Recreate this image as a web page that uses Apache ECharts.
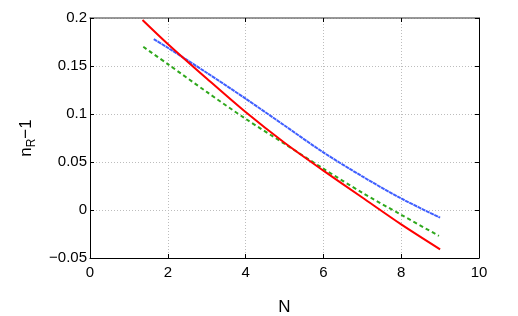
<!DOCTYPE html>
<html>
<head>
<meta charset="utf-8">
<script src="https://cdn.jsdelivr.net/npm/echarts@6/dist/echarts.min.js"></script>
<style>
html,body{margin:0;padding:0;background:#fff;}
#chart{width:518px;height:316px;}
</style>
</head>
<body>
<div id="chart"></div>
<script>
// data
var redX = [1.35, 2, 3, 4, 5, 6, 7, 8, 9];
var redY = [0.198, 0.173, 0.137, 0.102, 0.070, 0.041, 0.013, -0.015, -0.041];
var greenX = [1.37, 2, 3, 4, 5, 6, 7, 8, 8.97];
var greenY = [0.170, 0.152, 0.123, 0.095, 0.069, 0.043, 0.018, -0.005, -0.027];
var blueX = [1.64, 2, 3, 4, 5, 6, 7, 8, 9];
var blueY = [0.178, 0.169, 0.143, 0.116, 0.088, 0.060, 0.035, 0.012, -0.008];

var font = "'Liberation Sans', Arial, sans-serif";

function pairs(xs, ys) {
    return xs.map(function (x, i) { return [x, ys[i]]; });
}
function yfmt(v) {
    var s = String(+v.toFixed(2));
    return s.replace('-', '\u2212');
}

var chart = echarts.init(document.getElementById('chart'));
chart.setOption({
    animation: false,
    grid: { left: 90, right: 39, top: 18, bottom: 58, outerBoundsMode: 'none' },
    xAxis: [{
        type: 'value',
        min: 0, max: 10, interval: 2,
        name: 'N',
        nameLocation: 'middle',
        nameGap: 41,
        nameTextStyle: { fontFamily: font, fontSize: 17, color: '#000' },
        axisLine: { onZero: false, lineStyle: { color: '#000', width: 1 } },
        axisTick: { inside: true, length: 4, lineStyle: { color: '#000' } },
        axisLabel: { fontFamily: font, fontSize: 15, color: '#000', margin: 7 },
        splitLine: { show: true, lineStyle: { color: '#bdbdbd', type: [1, 2] } }
    }, {
        type: 'value', position: 'top',
        min: 0, max: 10, interval: 2,
        axisLine: { show: true, onZero: false, lineStyle: { color: '#777', width: 1.5 } },
        axisTick: { show: true, inside: true, length: 4, lineStyle: { color: '#000' } },
        axisLabel: { show: false },
        splitLine: { show: false }
    }],
    yAxis: [{
        type: 'value',
        min: -0.05, max: 0.2, interval: 0.05,
        name: '{a|n}{b|R}{a|\u22121}',
        nameLocation: 'middle',
        nameGap: 47,
        nameTextStyle: {
            rich: {
                a: { fontFamily: font, fontSize: 17, color: '#000', lineHeight: 24 },
                b: { fontFamily: font, fontSize: 12, color: '#000', lineHeight: 12, verticalAlign: 'bottom' }
            }
        },
        axisLine: { show: true, onZero: false, lineStyle: { color: '#000', width: 1 } },
        axisTick: { show: true, inside: true, length: 4, lineStyle: { color: '#000' } },
        axisLabel: { fontFamily: font, fontSize: 15, color: '#000', margin: 3, formatter: yfmt },
        splitLine: { show: true, lineStyle: { color: '#bdbdbd', type: [1, 2] } }
    }, {
        type: 'value', position: 'right',
        min: -0.05, max: 0.2, interval: 0.05,
        axisLine: { show: true, onZero: false, lineStyle: { color: '#000', width: 1 } },
        axisTick: { show: true, inside: true, length: 4, lineStyle: { color: '#000' } },
        axisLabel: { show: false },
        splitLine: { show: false }
    }],
    series: [{
        type: 'line',
        data: pairs(greenX, greenY),
        showSymbol: false,
        smooth: 0.3,
        lineStyle: { color: '#2fa81c', width: 2, type: [4, 3] }
    }, {
        type: 'line',
        data: pairs(blueX, blueY),
        showSymbol: false,
        smooth: 0.3,
        lineStyle: { color: '#3f5fff', width: 2, type: [4, 0.6] }
    }, {
        type: 'line',
        data: pairs(redX, redY),
        showSymbol: false,
        smooth: 0.3,
        lineStyle: { color: '#ff0000', width: 2 }
    }]
});
</script>
</body>
</html>
